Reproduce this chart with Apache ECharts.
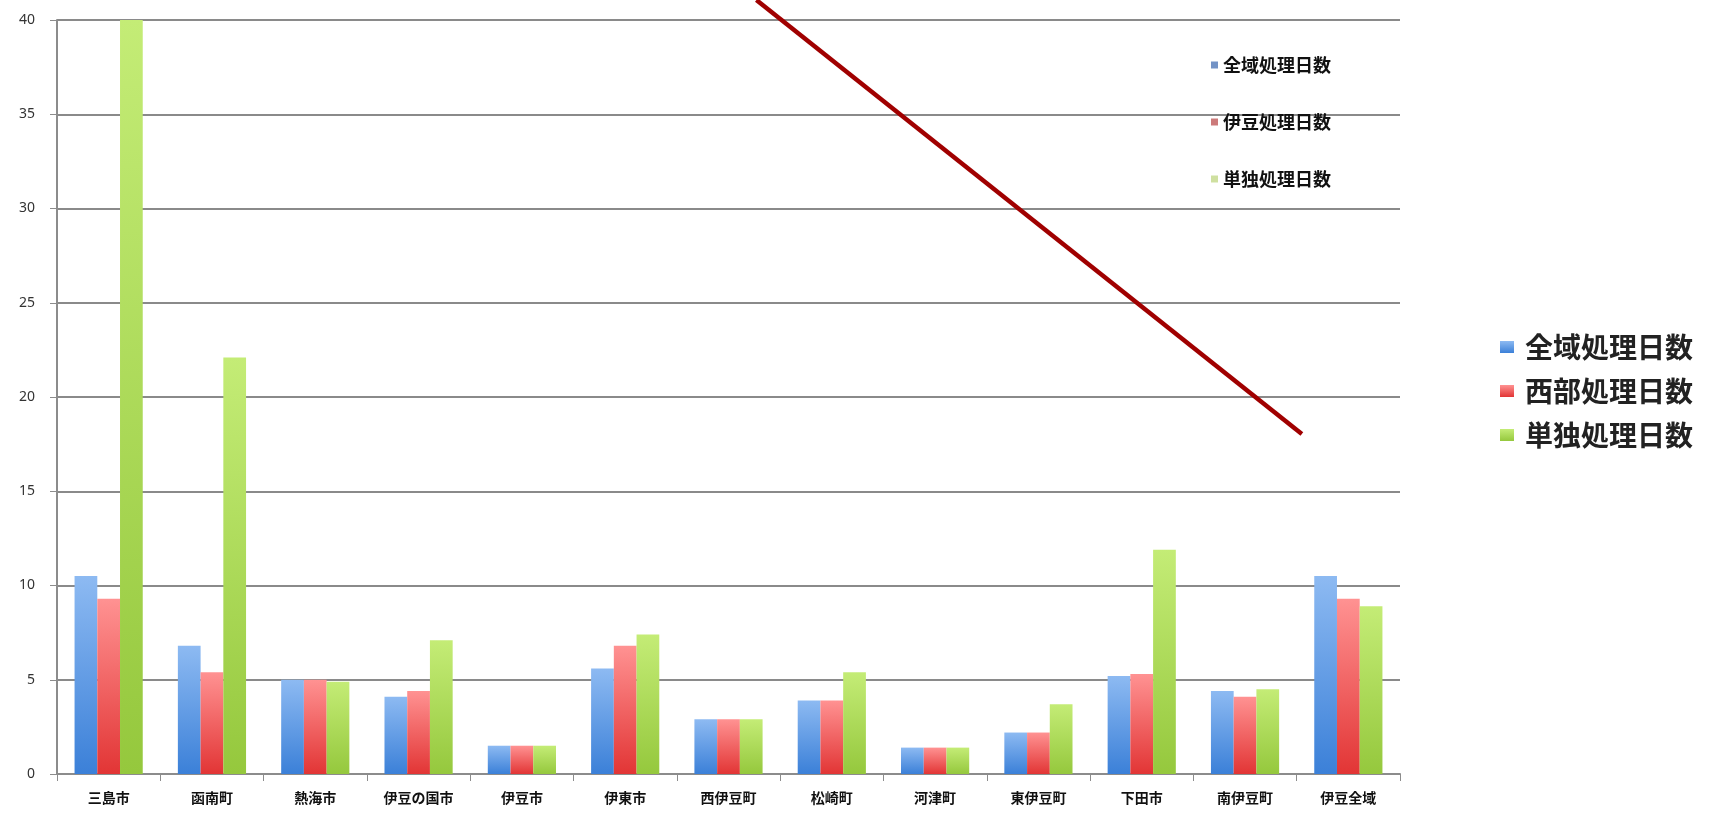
<!DOCTYPE html>
<html>
<head>
<meta charset="utf-8">
<title>処理日数</title>
<script src="https://cdn.jsdelivr.net/npm/echarts@6/dist/echarts.min.js"></script>
<style>
  html, body { margin: 0; padding: 0; background: #fff; }
  #chart { width: 1731px; height: 813px; }
</style>
</head>
<body>
<div id="chart"></div>
<script>
// 市町名
var categories = ['三島市', '函南町', '熱海市', '伊豆の国市', '伊豆市', '伊東市', '西伊豆町', '松崎町', '河津町', '東伊豆町', '下田市', '南伊豆町', '伊豆全域'];
// 全域処理日数
var zeniki = [10.5, 6.8, 5.0, 4.1, 1.5, 5.6, 2.9, 3.9, 1.4, 2.2, 5.2, 4.4, 10.5];
// 西部処理日数
var seibu = [9.3, 5.4, 5.0, 4.4, 1.5, 6.8, 2.9, 3.9, 1.4, 2.2, 5.3, 4.1, 9.3];
// 単独処理日数
var tandoku = [40, 22.1, 4.9, 7.1, 1.5, 7.4, 2.9, 5.4, 1.4, 3.7, 11.9, 4.5, 8.9];
var yTicks = [0, 5, 10, 15, 20, 25, 30, 35, 40];
// 赤い斜線（注記）の端点：x は区分の位置、y は値
var annoX = [6.77, 12.05];
var annoY = [41.06, 18.04];

var chart = echarts.init(document.getElementById('chart'));

function grad(top, bottom) {
  return new echarts.graphic.LinearGradient(0, 0, 0, 1, [
    { offset: 0, color: top },
    { offset: 1, color: bottom }
  ]);
}
var cBlue = grad('#8dbaf2', '#3b80d8');
var cRed = grad('#ff9292', '#e23535');
var cGreen = grad('#c4ec76', '#95c83d');

var barCommon = {
  type: 'bar',
  barGap: '0%',
  barCategoryGap: '34%',
  xAxisIndex: 0,
  yAxisIndex: 0
};

var option = {
  animation: false,
  backgroundColor: '#fff',
  textStyle: { fontFamily: 'Noto Sans CJK JP' },
  grid: { left: 57, top: 20, right: 331, bottom: 39, containLabel: false },
  legend: [
    {
      orient: 'vertical',
      left: 1500,
      top: 333,
      padding: 0,
      itemWidth: 14,
      itemHeight: 12,
      itemGap: 16,
      icon: 'rect',
      selectedMode: false,
      textStyle: { fontSize: 28, fontWeight: 'bold', color: '#222', fontFamily: 'Noto Sans CJK JP', padding: [0, 0, 0, 6] },
      data: ['全域処理日数', '西部処理日数', '単独処理日数']
    },
    {
      orient: 'vertical',
      left: 1211,
      top: 56,
      padding: 0,
      itemWidth: 7,
      itemHeight: 7,
      itemGap: 39,
      icon: 'rect',
      selectedMode: false,
      textStyle: { fontSize: 18, fontWeight: 'bold', color: '#111', fontFamily: 'Noto Sans CJK JP' },
      data: [
        { name: '全域処理日数', itemStyle: { color: '#7393c6' } },
        { name: '伊豆処理日数', itemStyle: { color: '#cc7a7a' } },
        { name: '単独処理日数', itemStyle: { color: '#cfe0a0' } }
      ]
    }
  ],
  xAxis: [
    {
      type: 'category',
      data: categories,
      axisLine: { lineStyle: { color: '#8c8c8c', width: 2 } },
      axisTick: { show: true, length: 7, lineStyle: { color: '#8c8c8c' } },
      axisLabel: { fontSize: 14, fontWeight: 'bold', color: '#111', margin: 17, interval: 0, fontFamily: 'Noto Sans CJK JP' },
      splitLine: { show: false }
    },
    {
      type: 'value',
      min: 0,
      max: categories.length,
      show: false
    }
  ],
  yAxis: {
    type: 'value',
    min: yTicks[0],
    max: yTicks[yTicks.length - 1],
    interval: 5,
    axisLine: { show: true, lineStyle: { color: '#8c8c8c', width: 2 } },
    axisTick: { show: true, length: 7, lineStyle: { color: '#8c8c8c' } },
    axisLabel: { fontSize: 14, color: '#333', margin: 22, fontFamily: 'Noto Sans' },
    splitLine: { show: true, lineStyle: { color: '#8a8a8a', width: 2 } }
  },
  series: [
    Object.assign({ name: '全域処理日数', data: zeniki, itemStyle: { color: cBlue } }, barCommon),
    Object.assign({ name: '西部処理日数', data: seibu, itemStyle: { color: cRed } }, barCommon),
    Object.assign({ name: '単独処理日数', data: tandoku, itemStyle: { color: cGreen } }, barCommon),
    {
      // 図内凡例用（データなし）
      name: '伊豆処理日数',
      type: 'line',
      xAxisIndex: 1,
      yAxisIndex: 0,
      data: [],
      itemStyle: { color: '#cc7a7a' }
    },
    {
      name: 'annotation',
      type: 'line',
      xAxisIndex: 1,
      yAxisIndex: 0,
      data: annoX.map(function (x, i) { return [x, annoY[i]]; }),
      symbol: 'none',
      clip: false,
      silent: true,
      z: 10,
      lineStyle: { color: '#a00000', width: 4.5 }
    }
  ]
};

chart.setOption(option);
</script>
</body>
</html>
